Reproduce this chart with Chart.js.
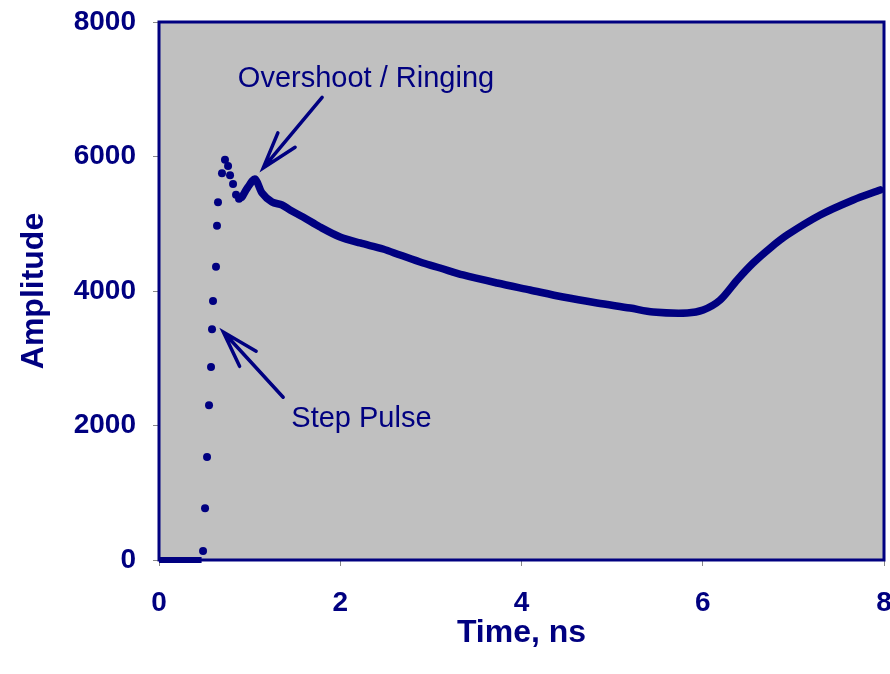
<!DOCTYPE html>
<html>
<head>
<meta charset="utf-8">
<script src="https://cdn.jsdelivr.net/npm/chart.js@4/dist/chart.umd.min.js"></script>
<style>
  html, body { margin: 0; padding: 0; background: #fff; }
  #wrap { width: 890px; height: 674px; }
</style>
</head>
<body>
<div id="wrap"><canvas id="tdr"></canvas></div>
<script>
// flat part before the edge
const baseTime = [0, 0.47]
const baseAmp = [0, 0]

// separate dots on the fast rising edge
const stepTime = [0.486, 0.508, 0.530, 0.552, 0.574, 0.585, 0.596, 0.629, 0.640, 0.651, 0.695, 0.728, 0.762, 0.784, 0.817, 0.850, 0.883]
const stepAmp = [134, 770, 1530, 2300, 2870, 3430, 3850, 4360, 4970, 5320, 5750, 5950, 5860, 5720, 5590, 5430, 5370]

// dense samples after the edge (they merge into a solid line)
const traceTime = [0.916, 0.982, 1.060, 1.137, 1.247, 1.358, 1.446, 1.589, 1.777, 1.998, 2.219, 2.472, 2.660, 2.914, 3.102, 3.355, 3.731, 4.095, 4.459, 4.834, 5.199, 5.453, 5.828, 6.004, 6.192, 6.380, 6.556, 6.744, 6.932, 7.296, 7.660, 7.958]
const traceAmp = [5398, 5546, 5665, 5457, 5323, 5279, 5204, 5100, 4952, 4803, 4714, 4625, 4535, 4416, 4342, 4238, 4119, 4015, 3911, 3822, 3747, 3688, 3673, 3717, 3866, 4164, 4416, 4639, 4833, 5130, 5353, 5502]

const xTicks = [0, 2, 4, 6, 8]
const yTicks = [0, 2000, 4000, 6000, 8000]

// callouts: text anchor and arrow tail/head in data units
const callouts = [
  { text: 'Overshoot / Ringing', at: [0.87, 7150], tail: [1.80, 6880], head: [1.15, 5830] },
  { text: 'Step Pulse', at: [1.46, 2100], tail: [1.37, 2420], head: [0.71, 3390] },
]

const NAVY = '#000080'
const FONT = "'Liberation Sans', Arial, sans-serif"

const pts = (xs, ys) => xs.map((x, i) => ({ x: x, y: ys[i] }))

const framePlugin = {
  id: 'frame',
  beforeDraw(chart) {
    const { ctx, chartArea: a } = chart
    ctx.save()
    ctx.fillStyle = '#c0c0c0'
    ctx.fillRect(a.left, a.top, a.right - a.left, a.bottom - a.top)
    ctx.restore()
  },
  afterDatasetsDraw(chart) {
    const { ctx, chartArea: a, scales } = chart
    const sx = scales.x, sy = scales.y
    ctx.save()
    ctx.strokeStyle = NAVY
    ctx.lineWidth = 3
    ctx.strokeRect(a.left, a.top, a.right - a.left, a.bottom - a.top)

    ctx.fillStyle = NAVY
    ctx.font = '29px ' + FONT
    ctx.textBaseline = 'middle'
    ctx.textAlign = 'left'
    ctx.lineWidth = 3.5
    ctx.lineCap = 'round'
    callouts.forEach(c => {
      ctx.fillText(c.text, sx.getPixelForValue(c.at[0]), sy.getPixelForValue(c.at[1]))
      const tx = sx.getPixelForValue(c.tail[0]), ty = sy.getPixelForValue(c.tail[1])
      const hx = sx.getPixelForValue(c.head[0]), hy = sy.getPixelForValue(c.head[1])
      const ang = Math.atan2(ty - hy, tx - hx)
      const wing = 38, spread = 0.3
      ctx.beginPath()
      ctx.moveTo(tx, ty)
      ctx.lineTo(hx, hy)
      ctx.moveTo(hx + wing * Math.cos(ang - spread), hy + wing * Math.sin(ang - spread))
      ctx.lineTo(hx, hy)
      ctx.lineTo(hx + wing * Math.cos(ang + spread), hy + wing * Math.sin(ang + spread))
      ctx.stroke()
    })
    ctx.restore()
  },
}

new Chart(document.getElementById('tdr'), {
  type: 'scatter',
  data: {
    datasets: [
      {
        data: pts(baseTime, baseAmp),
        showLine: true,
        borderColor: NAVY,
        borderWidth: 6,
        pointRadius: 0,
        clip: false,
      },
      {
        data: pts(stepTime, stepAmp),
        showLine: false,
        backgroundColor: NAVY,
        borderColor: NAVY,
        pointRadius: 4,
        borderWidth: 0,
      },
      {
        data: pts(traceTime, traceAmp),
        showLine: true,
        borderColor: NAVY,
        borderWidth: 7.5,
        borderCapStyle: 'round',
        borderJoinStyle: 'round',
        tension: 0.3,
        pointRadius: 0,
      },
    ],
  },
  options: {
    responsive: true,
    maintainAspectRatio: false,
    animation: false,
    layout: { padding: { top: 22, right: 6, left: 0, bottom: 0 } },
    plugins: { legend: { display: false }, tooltip: { enabled: false } },
    scales: {
      x: {
        type: 'linear',
        min: 0,
        max: 8,
        afterBuildTicks: s => { s.ticks = xTicks.map(v => ({ value: v })) },
        afterFit: s => { s.height = 114; s.paddingLeft = 0; s.paddingRight = 0 },
        border: { display: false },
        grid: { drawOnChartArea: false, tickLength: 6, tickColor: '#888', tickWidth: 1 },
        ticks: {
          color: NAVY,
          padding: 20,
          callback: v => String(v),
          font: { family: FONT, size: 28, weight: 'bold' },
        },
        title: {
          display: true,
          text: 'Time, ns',
          color: NAVY,
          padding: { top: 0, bottom: 22 },
          font: { family: FONT, size: 32, weight: 'bold' },
        },
      },
      y: {
        type: 'linear',
        min: 0,
        max: 8000,
        afterBuildTicks: s => { s.ticks = yTicks.map(v => ({ value: v })) },
        afterFit: s => { s.width = 159; s.paddingTop = 0; s.paddingBottom = 0 },
        border: { display: false },
        grid: { drawOnChartArea: false, tickLength: 6, tickColor: '#888', tickWidth: 1 },
        ticks: {
          color: NAVY,
          padding: 17,
          callback: v => String(v),
          font: { family: FONT, size: 28, weight: 'bold' },
        },
        title: {
          display: true,
          text: 'Amplitude',
          color: NAVY,
          padding: { top: 15, bottom: 0 },
          font: { family: FONT, size: 32, weight: 'bold' },
        },
      },
    },
  },
  plugins: [framePlugin],
})
</script>
</body>
</html>
